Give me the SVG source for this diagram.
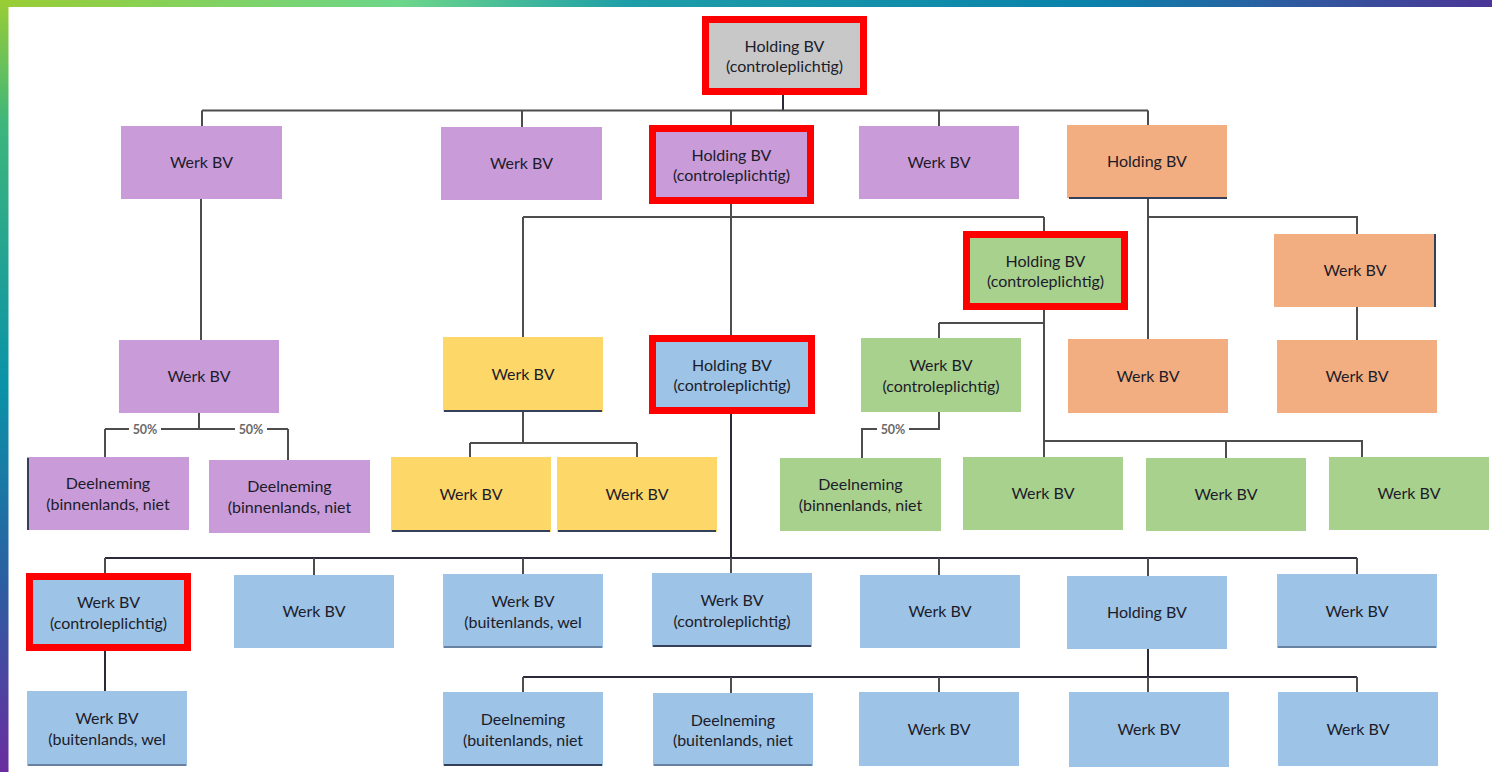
<svg xmlns="http://www.w3.org/2000/svg" width="1492" height="772" viewBox="0 0 1492 772">
<defs>
<linearGradient id="gTop" x1="0" y1="0" x2="1" y2="0">
<stop offset="0" stop-color="#9ACD34"/>
<stop offset="0.27" stop-color="#6CD68A"/>
<stop offset="0.42" stop-color="#1E9EA8"/>
<stop offset="0.73" stop-color="#0A82AB"/>
<stop offset="0.86" stop-color="#2D5CA0"/>
<stop offset="1" stop-color="#4B3597"/>
</linearGradient>
<linearGradient id="gLeft" x1="0" y1="0" x2="0" y2="1">
<stop offset="0" stop-color="#9ACD34"/>
<stop offset="0.16" stop-color="#3DB67C"/>
<stop offset="0.5" stop-color="#0A92A8"/>
<stop offset="0.75" stop-color="#2A5FA2"/>
<stop offset="1" stop-color="#6A2DA0"/>
</linearGradient>
<style>
.t{font-family:Lato,"Open Sans","Liberation Sans",sans-serif;font-size:16px;fill:#1c1c2a;text-anchor:middle}
.pc{font-family:Lato,"Liberation Sans",sans-serif;font-size:12.5px;font-weight:bold;fill:#6a6a6a;text-anchor:middle}
.pu{fill:#C99BD9}
.gy{fill:#C8C8C8}
.or{fill:#F2AE80}
.ye{fill:#FDD868}
.gr{fill:#A9D18E}
.bl{fill:#9DC3E6}
.red{stroke:#FF0000;stroke-width:7}
.ln{fill:none;stroke:#4d4d4d;stroke-width:2}
.dk{fill:none;stroke:#2a2a3a;stroke-width:2}
.ed{fill:none;stroke:#34405a;stroke-width:2}
</style>
</defs>
<rect x="0" y="0" width="1492" height="772" fill="#ffffff"/>
<rect x="0" y="0" width="1492" height="7" fill="url(#gTop)"/>
<rect x="0" y="0" width="8.5" height="772" fill="url(#gLeft)"/>

<g id="connectors">
<path class="dk" d="M783,95 V110.5"/>
<path class="ln" d="M202,110.5 H1148 M202,110.5 V126 M522,110.5 V127 M731,110.5 V125 M939,110.5 V126 M1148,110.5 V125"/>
<path class="ln" d="M201,199 V340"/>
<path class="ln" d="M199,413 V429 M105,429 H288 M105,429 V457 M288,429 V460"/>
<rect x="129" y="422" width="32" height="14" fill="#fff"/>
<text class="pc" x="145" y="433.5">50%</text>
<rect x="235" y="422" width="32" height="14" fill="#fff"/>
<text class="pc" x="251" y="433.5">50%</text>
<path class="ln" d="M731,204 V335 M523,217 H1044 M523,217 V337 M1044,217 V231"/>
<path class="ln" d="M523,412 V443 M470,443 H637 M470,443 V457 M637,443 V457"/>
<path class="ln" d="M1044,310 V441 H1362 V457 M939,323 H1044 M939,323 V338 M1044,441 V457 M1226,441 V458"/>
<path class="ln" d="M939,412 V429 H862 V458"/>
<rect x="877" y="422" width="32" height="14" fill="#fff"/>
<text class="pc" x="893" y="433.5">50%</text>
<path class="ln" d="M1148,198 V339 M1148,217 H1357 V234 M1357,307 V340"/>
<path class="dk" d="M731,414 V558 M105,558 H1357"/>
<path class="ln" d="M105,558 V573 M314,558 V575 M523,558 V574 M731,558 V573 M939,558 V575 M1148,558 V576 M1357,558 V574"/>
<path class="dk" d="M105,651 V691"/>
<path class="dk" d="M1148,649 V677 M523,677 H1357"/>
<path class="ln" d="M523,677 V692 M731,677 V693 M939,677 V692 M1148,677 V692 M1357,677 V692"/>
</g>

<g id="n_top"><rect class="gy red" x="705.5" y="19.5" width="158" height="72"/><text class="t" x="784.5" y="51.5">Holding BV</text><text class="t" x="784.5" y="72">(controleplichtig)</text></g>

<g id="n_w1"><rect class="pu" x="121" y="126" width="161" height="73"/><text class="t" x="201.5" y="168">Werk BV</text></g>
<g id="n_w2"><rect class="pu" x="441" y="127" width="161" height="73"/><text class="t" x="521.5" y="169">Werk BV</text></g>
<g id="n_hp"><rect class="pu red" x="652.5" y="128.5" width="158" height="72"/><text class="t" x="731.5" y="160.5">Holding BV</text><text class="t" x="731.5" y="181">(controleplichtig)</text></g>
<g id="n_w3"><rect class="pu" x="859" y="126" width="160" height="73"/><text class="t" x="939" y="168">Werk BV</text></g>
<g id="n_ho"><rect class="or" x="1067" y="125" width="160" height="73"/><path class="ed" d="M1069,198 H1227"/><text class="t" x="1147" y="167">Holding BV</text></g>

<g id="n_w1b"><rect class="pu" x="119" y="340" width="160" height="73"/><text class="t" x="199" y="382">Werk BV</text></g>
<g id="n_d1"><rect class="pu" x="27" y="457" width="162" height="73"/><path class="ed" d="M28,458 V530"/><text class="t" x="108" y="489">Deelneming</text><text class="t" x="108" y="509.5">(binnenlands, niet</text></g>
<g id="n_d2"><rect class="pu" x="209" y="460" width="161" height="73"/><text class="t" x="289.5" y="492">Deelneming</text><text class="t" x="289.5" y="512.5">(binnenlands, niet</text></g>

<g id="n_y1"><rect class="ye" x="443" y="337" width="160" height="75"/><path class="ed" d="M444,411 H602"/><text class="t" x="523" y="380">Werk BV</text></g>
<g id="n_hb"><rect class="bl red" x="652.5" y="338.5" width="159" height="72"/><text class="t" x="732" y="370.5">Holding BV</text><text class="t" x="732" y="391">(controleplichtig)</text></g>
<g id="n_y2"><rect class="ye" x="391" y="457" width="160" height="75"/><path class="ed" d="M392,531 H550"/><text class="t" x="471" y="500">Werk BV</text></g>
<g id="n_y3"><rect class="ye" x="557" y="457" width="160" height="75"/><path class="ed" d="M558,531 H716"/><text class="t" x="637" y="500">Werk BV</text></g>

<g id="n_hg"><rect class="gr red" x="966.5" y="234.5" width="158" height="72"/><text class="t" x="1045.5" y="266.5">Holding BV</text><text class="t" x="1045.5" y="287">(controleplichtig)</text></g>
<g id="n_gw"><rect class="gr" x="861" y="338" width="160" height="74"/><text class="t" x="941" y="371">Werk BV</text><text class="t" x="941" y="391.5">(controleplichtig)</text></g>
<g id="n_gd"><rect class="gr" x="780" y="458" width="161" height="73"/><text class="t" x="860.5" y="490">Deelneming</text><text class="t" x="860.5" y="510.5">(binnenlands, niet</text></g>
<g id="n_g1"><rect class="gr" x="963" y="457" width="160" height="73"/><text class="t" x="1043" y="499">Werk BV</text></g>
<g id="n_g2"><rect class="gr" x="1146" y="458" width="160" height="73"/><text class="t" x="1226" y="500">Werk BV</text></g>
<g id="n_g3"><rect class="gr" x="1329" y="457" width="160" height="73"/><text class="t" x="1409" y="499">Werk BV</text></g>

<g id="n_o1"><rect class="or" x="1274" y="234" width="162" height="73"/><path class="ed" d="M1435,234 V307"/><text class="t" x="1355" y="276">Werk BV</text></g>
<g id="n_o2"><rect class="or" x="1068" y="339" width="160" height="74"/><text class="t" x="1148" y="381.5">Werk BV</text></g>
<g id="n_o3"><rect class="or" x="1277" y="340" width="160" height="73"/><text class="t" x="1357" y="382">Werk BV</text></g>

<g id="n_wb"><rect class="bl red" x="29.5" y="576.5" width="158" height="71"/><text class="t" x="108.5" y="608">Werk BV</text><text class="t" x="108.5" y="628.5">(controleplichtig)</text></g>
<g id="n_b1"><rect class="bl" x="234" y="575" width="160" height="73"/><text class="t" x="314" y="617">Werk BV</text></g>
<g id="n_b2"><rect class="bl" x="443" y="574" width="160" height="74"/><path class="ed" d="M444,647 H602" stroke-opacity="0.5"/><text class="t" x="523" y="607">Werk BV</text><text class="t" x="523" y="627.5">(buitenlands, wel</text></g>
<g id="n_b3"><rect class="bl" x="652" y="573" width="160" height="74"/><path class="ed" d="M653,646 H811"/><text class="t" x="732" y="606">Werk BV</text><text class="t" x="732" y="626.5">(controleplichtig)</text></g>
<g id="n_b4"><rect class="bl" x="860" y="575" width="160" height="73"/><text class="t" x="940" y="617">Werk BV</text></g>
<g id="n_b5"><rect class="bl" x="1067" y="576" width="160" height="73"/><text class="t" x="1147" y="618">Holding BV</text></g>
<g id="n_b6"><rect class="bl" x="1277" y="574" width="160" height="74"/><path class="ed" d="M1278,647 H1436" stroke-opacity="0.5"/><text class="t" x="1357" y="616.5">Werk BV</text></g>

<g id="n_c1"><rect class="bl" x="27" y="691" width="160" height="75"/><path class="ed" d="M28,765 H186" stroke-opacity="0.5"/><text class="t" x="107" y="724">Werk BV</text><text class="t" x="107" y="744.5">(buitenlands, wel</text></g>
<g id="n_c2"><rect class="bl" x="443" y="692" width="160" height="74"/><path class="ed" d="M444,765 H602"/><text class="t" x="523" y="725">Deelneming</text><text class="t" x="523" y="745.5">(buitenlands, niet</text></g>
<g id="n_c3"><rect class="bl" x="653" y="693" width="160" height="73"/><path class="ed" d="M654,765 H812" stroke-opacity="0.5"/><text class="t" x="733" y="725.5">Deelneming</text><text class="t" x="733" y="746">(buitenlands, niet</text></g>
<g id="n_c4"><rect class="bl" x="859" y="692" width="160" height="74"/><text class="t" x="939" y="734.5">Werk BV</text></g>
<g id="n_c5"><rect class="bl" x="1069" y="692" width="160" height="75"/><text class="t" x="1149" y="735">Werk BV</text></g>
<g id="n_c6"><rect class="bl" x="1278" y="692" width="160" height="74"/><text class="t" x="1358" y="734.5">Werk BV</text></g>
</svg>
